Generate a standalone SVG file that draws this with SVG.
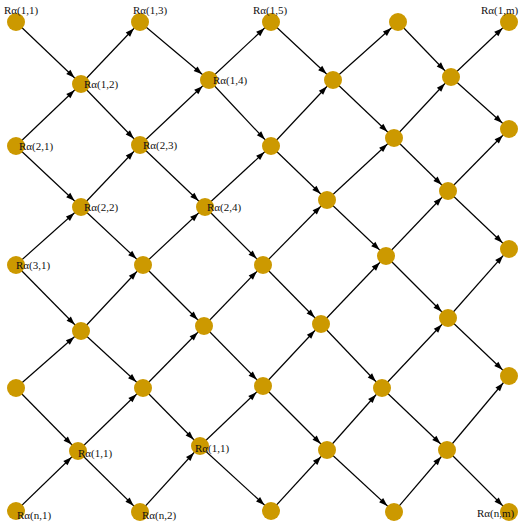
<svg xmlns="http://www.w3.org/2000/svg" width="520" height="529" viewBox="0 0 520 529">
<style>
.e{stroke:#000;stroke-width:1.2;fill:none;marker-end:url(#a)}
.n{fill:#CC9900}
.t{font-family:"Liberation Serif","Times New Roman",serif;font-size:11px;fill:#111}
</style>
<defs>
<marker id="a" markerUnits="userSpaceOnUse" markerWidth="20" markerHeight="8" refX="17.5" refY="3" orient="auto" overflow="visible">
<path d="M0,0 L8.5,3 L0,6 z" fill="#000"/>
</marker>
</defs>
<rect width="520" height="529" fill="#fff"/>
<g id="connectors">
<line class="e" x1="16" y1="22" x2="81" y2="84"/>
<line class="e" x1="16" y1="146" x2="81" y2="84"/>
<line class="e" x1="16" y1="146" x2="81" y2="207"/>
<line class="e" x1="16" y1="265" x2="81" y2="207"/>
<line class="e" x1="16" y1="265" x2="81" y2="331"/>
<line class="e" x1="16" y1="388" x2="81" y2="331"/>
<line class="e" x1="16" y1="388" x2="78" y2="451"/>
<line class="e" x1="16" y1="511" x2="78" y2="451"/>
<line class="e" x1="81" y1="84" x2="140" y2="22"/>
<line class="e" x1="81" y1="84" x2="140" y2="145"/>
<line class="e" x1="81" y1="207" x2="140" y2="145"/>
<line class="e" x1="81" y1="207" x2="143" y2="265"/>
<line class="e" x1="81" y1="331" x2="143" y2="265"/>
<line class="e" x1="81" y1="331" x2="143" y2="388"/>
<line class="e" x1="78" y1="451" x2="143" y2="388"/>
<line class="e" x1="78" y1="451" x2="140" y2="512"/>
<line class="e" x1="140" y1="22" x2="209" y2="80"/>
<line class="e" x1="140" y1="145" x2="209" y2="80"/>
<line class="e" x1="140" y1="145" x2="205" y2="207"/>
<line class="e" x1="143" y1="265" x2="205" y2="207"/>
<line class="e" x1="143" y1="265" x2="204" y2="326"/>
<line class="e" x1="143" y1="388" x2="204" y2="326"/>
<line class="e" x1="143" y1="388" x2="200" y2="446"/>
<line class="e" x1="140" y1="512" x2="200" y2="446"/>
<line class="e" x1="209" y1="80" x2="271" y2="22"/>
<line class="e" x1="209" y1="80" x2="271" y2="146"/>
<line class="e" x1="205" y1="207" x2="271" y2="146"/>
<line class="e" x1="205" y1="207" x2="263" y2="265"/>
<line class="e" x1="204" y1="326" x2="263" y2="265"/>
<line class="e" x1="204" y1="326" x2="263" y2="386"/>
<line class="e" x1="200" y1="446" x2="263" y2="386"/>
<line class="e" x1="200" y1="446" x2="271" y2="511"/>
<line class="e" x1="271" y1="22" x2="333" y2="80"/>
<line class="e" x1="271" y1="146" x2="333" y2="80"/>
<line class="e" x1="271" y1="146" x2="327" y2="200"/>
<line class="e" x1="263" y1="265" x2="327" y2="200"/>
<line class="e" x1="263" y1="265" x2="321" y2="324"/>
<line class="e" x1="263" y1="386" x2="321" y2="324"/>
<line class="e" x1="263" y1="386" x2="327" y2="450"/>
<line class="e" x1="271" y1="511" x2="327" y2="450"/>
<line class="e" x1="333" y1="80" x2="398" y2="22"/>
<line class="e" x1="333" y1="80" x2="394" y2="138"/>
<line class="e" x1="327" y1="200" x2="394" y2="138"/>
<line class="e" x1="327" y1="200" x2="386" y2="256"/>
<line class="e" x1="321" y1="324" x2="386" y2="256"/>
<line class="e" x1="321" y1="324" x2="382" y2="388"/>
<line class="e" x1="327" y1="450" x2="382" y2="388"/>
<line class="e" x1="327" y1="450" x2="394" y2="512"/>
<line class="e" x1="398" y1="22" x2="451" y2="77"/>
<line class="e" x1="394" y1="138" x2="451" y2="77"/>
<line class="e" x1="394" y1="138" x2="448" y2="191"/>
<line class="e" x1="386" y1="256" x2="448" y2="191"/>
<line class="e" x1="386" y1="256" x2="448" y2="318"/>
<line class="e" x1="382" y1="388" x2="448" y2="318"/>
<line class="e" x1="382" y1="388" x2="447" y2="450"/>
<line class="e" x1="394" y1="512" x2="447" y2="450"/>
<line class="e" x1="451" y1="77" x2="509" y2="22"/>
<line class="e" x1="451" y1="77" x2="509" y2="129"/>
<line class="e" x1="448" y1="191" x2="509" y2="129"/>
<line class="e" x1="448" y1="191" x2="509" y2="249"/>
<line class="e" x1="448" y1="318" x2="509" y2="249"/>
<line class="e" x1="448" y1="318" x2="509" y2="376"/>
<line class="e" x1="447" y1="450" x2="509" y2="376"/>
<line class="e" x1="447" y1="450" x2="509" y2="512"/>
</g>
<g id="n0_0"><circle class="n" cx="16" cy="22" r="9"/><text class="t" x="4" y="14">Rα(1,1)</text></g>
<g id="n0_2"><circle class="n" cx="140" cy="22" r="9"/><text class="t" x="133" y="14">Rα(1,3)</text></g>
<g id="n0_4"><circle class="n" cx="271" cy="22" r="9"/><text class="t" x="253" y="14">Rα(1,5)</text></g>
<g id="n0_6"><circle class="n" cx="398" cy="22" r="9"/></g>
<g id="n0_8"><circle class="n" cx="509" cy="22" r="9"/><text class="t" x="481" y="14">Rα(1,m)</text></g>
<g id="n1_1"><circle class="n" cx="81" cy="84" r="9"/><text class="t" x="84" y="88">Rα(1,2)</text></g>
<g id="n1_3"><circle class="n" cx="209" cy="80" r="9"/><text class="t" x="213" y="84">Rα(1,4)</text></g>
<g id="n1_5"><circle class="n" cx="333" cy="80" r="9"/></g>
<g id="n1_7"><circle class="n" cx="451" cy="77" r="9"/></g>
<g id="n2_0"><circle class="n" cx="16" cy="146" r="9"/><text class="t" x="19" y="150">Rα(2,1)</text></g>
<g id="n2_2"><circle class="n" cx="140" cy="145" r="9"/><text class="t" x="143" y="149">Rα(2,3)</text></g>
<g id="n2_4"><circle class="n" cx="271" cy="146" r="9"/></g>
<g id="n2_6"><circle class="n" cx="394" cy="138" r="9"/></g>
<g id="n2_8"><circle class="n" cx="509" cy="129" r="9"/></g>
<g id="n3_1"><circle class="n" cx="81" cy="207" r="9"/><text class="t" x="84" y="211">Rα(2,2)</text></g>
<g id="n3_3"><circle class="n" cx="205" cy="207" r="9"/><text class="t" x="207" y="211">Rα(2,4)</text></g>
<g id="n3_5"><circle class="n" cx="327" cy="200" r="9"/></g>
<g id="n3_7"><circle class="n" cx="448" cy="191" r="9"/></g>
<g id="n4_0"><circle class="n" cx="16" cy="265" r="9"/><text class="t" x="16" y="269">Rα(3,1)</text></g>
<g id="n4_2"><circle class="n" cx="143" cy="265" r="9"/></g>
<g id="n4_4"><circle class="n" cx="263" cy="265" r="9"/></g>
<g id="n4_6"><circle class="n" cx="386" cy="256" r="9"/></g>
<g id="n4_8"><circle class="n" cx="509" cy="249" r="9"/></g>
<g id="n5_1"><circle class="n" cx="81" cy="331" r="9"/></g>
<g id="n5_3"><circle class="n" cx="204" cy="326" r="9"/></g>
<g id="n5_5"><circle class="n" cx="321" cy="324" r="9"/></g>
<g id="n5_7"><circle class="n" cx="448" cy="318" r="9"/></g>
<g id="n6_0"><circle class="n" cx="16" cy="388" r="9"/></g>
<g id="n6_2"><circle class="n" cx="143" cy="388" r="9"/></g>
<g id="n6_4"><circle class="n" cx="263" cy="386" r="9"/></g>
<g id="n6_6"><circle class="n" cx="382" cy="388" r="9"/></g>
<g id="n6_8"><circle class="n" cx="509" cy="376" r="9"/></g>
<g id="n7_1"><circle class="n" cx="78" cy="451" r="9"/><text class="t" x="78" y="457">Rα(1,1)</text></g>
<g id="n7_3"><circle class="n" cx="200" cy="446" r="9"/><text class="t" x="195" y="452">Rα(1,1)</text></g>
<g id="n7_5"><circle class="n" cx="327" cy="450" r="9"/></g>
<g id="n7_7"><circle class="n" cx="447" cy="450" r="9"/></g>
<g id="n8_0"><circle class="n" cx="16" cy="511" r="9"/><text class="t" x="17" y="519">Rα(n,1)</text></g>
<g id="n8_2"><circle class="n" cx="140" cy="512" r="9"/><text class="t" x="142" y="519">Rα(n,2)</text></g>
<g id="n8_4"><circle class="n" cx="271" cy="511" r="9"/></g>
<g id="n8_6"><circle class="n" cx="394" cy="512" r="9"/></g>
<g id="n8_8"><circle class="n" cx="509" cy="512" r="9"/><text class="t" x="477" y="517">Rα(n,m)</text></g>
</svg>
